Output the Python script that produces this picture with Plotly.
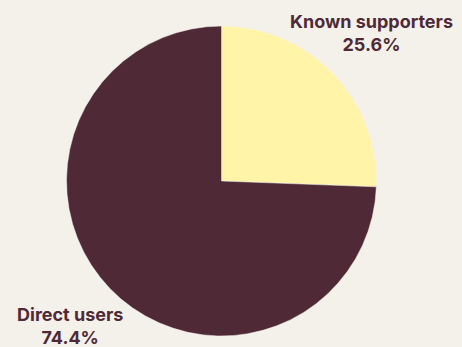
import plotly.graph_objects as go

# Share of audience by group
labels = ["Known supporters", "Direct users"]
values = [25.6, 74.4]
colors = ["#FFF4A8", "#4F2A36"]

BG = "#F4F1EB"
INK = "#4F2A36"
W, H = 462, 347

# pie geometry in pixels
cx, cy, r = 221.5, 181, 155

# label block centres in pixels
label_pos = [(371, 33), (70, 326)]

fig = go.Figure(
    go.Pie(
        labels=labels,
        values=values,
        sort=False,
        direction="clockwise",
        rotation=0,
        marker=dict(colors=colors, line=dict(color=BG, width=0.5)),
        textinfo="none",
        hoverinfo="label+percent",
        domain=dict(x=[(cx - r) / W, (cx + r) / W], y=[1 - (cy + r) / H, 1 - (cy - r) / H]),
        showlegend=False,
    )
)

total = sum(values)
for lab, val, (px, py) in zip(labels, values, label_pos):
    fig.add_annotation(
        text=f"{lab}<br>{val / total * 100:.1f}%",
        x=px / W,
        y=1 - py / H,
        xref="paper",
        yref="paper",
        xanchor="center",
        yanchor="middle",
        showarrow=False,
        align="center",
        borderpad=0,
        font=dict(family="Inter", size=18, color=INK, weight="bold"),
    )

fig.update_layout(
    width=W,
    height=H,
    paper_bgcolor=BG,
    plot_bgcolor=BG,
    margin=dict(l=0, r=0, t=0, b=0),
)

fig.write_html("out.html")
